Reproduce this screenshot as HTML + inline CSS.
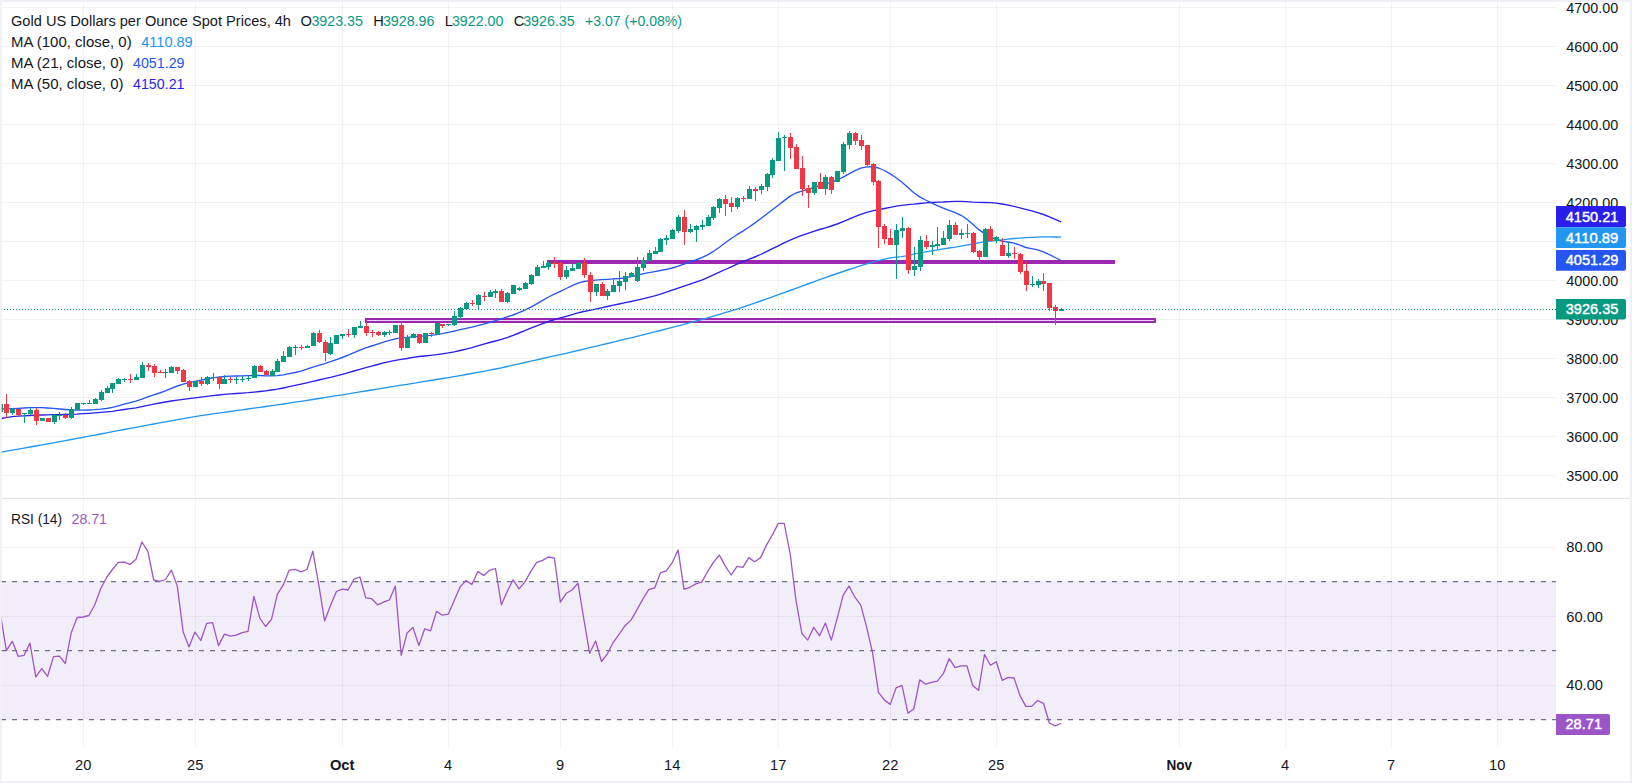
<!DOCTYPE html>
<html><head><meta charset="utf-8"><title>Gold chart</title>
<style>
html,body{margin:0;padding:0;background:#fff;}
body{width:1632px;height:783px;overflow:hidden;}
svg{display:block;font-family:"Liberation Sans",sans-serif;font-size:14.67px;}
</style></head><body>
<svg width="1632" height="783" viewBox="0 0 1632 783">
<rect width="1632" height="783" fill="#fff"/>
<g fill="rgba(42,46,57,0.06)"><rect x="2" y="475" width="1554" height="1"/><rect x="2" y="436" width="1554" height="1"/><rect x="2" y="397" width="1554" height="1"/><rect x="2" y="358" width="1554" height="1"/><rect x="2" y="319" width="1554" height="1"/><rect x="2" y="280" width="1554" height="1"/><rect x="2" y="241" width="1554" height="1"/><rect x="2" y="202" width="1554" height="1"/><rect x="2" y="163" width="1554" height="1"/><rect x="2" y="124" width="1554" height="1"/><rect x="2" y="85" width="1554" height="1"/><rect x="2" y="46" width="1554" height="1"/><rect x="2" y="7" width="1554" height="1"/><rect x="2" y="547" width="1554" height="1"/><rect x="2" y="616" width="1554" height="1"/><rect x="2" y="685" width="1554" height="1"/><rect x="83" y="2" width="1" height="745"/><rect x="195" y="2" width="1" height="745"/><rect x="342" y="2" width="1" height="745"/><rect x="448" y="2" width="1" height="745"/><rect x="560" y="2" width="1" height="745"/><rect x="672" y="2" width="1" height="745"/><rect x="778" y="2" width="1" height="745"/><rect x="890" y="2" width="1" height="745"/><rect x="996" y="2" width="1" height="745"/><rect x="1179" y="2" width="1" height="745"/><rect x="1285" y="2" width="1" height="745"/><rect x="1391" y="2" width="1" height="745"/><rect x="1497" y="2" width="1" height="745"/></g>
<rect x="2" y="581" width="1554" height="139" fill="#7E57C2" fill-opacity="0.1"/>
<line x1="1" y1="581.6" x2="1556" y2="581.6" stroke="#6E7180" stroke-width="1.2" stroke-dasharray="5 6"/>
<line x1="1" y1="650.6" x2="1556" y2="650.6" stroke="#6E7180" stroke-width="1.2" stroke-dasharray="5 6"/>
<line x1="1" y1="719.6" x2="1556" y2="719.6" stroke="#6E7180" stroke-width="1.2" stroke-dasharray="5 6"/>
<rect x="0" y="497.9" width="1632" height="1.2" fill="#E0E3EB"/>
<rect x="547" y="260" width="568" height="4" fill="#9C27B0"/>
<rect x="366" y="319" width="789" height="3" fill="#EBD4EF" stroke="#9C27B0" stroke-width="2"/>
<path d="M0.5 452.3 L6.4 451.2 L12.3 450.2 L18.2 449.1 L24.1 448.1 L29.9 447.0 L35.8 446.0 L41.7 444.9 L47.6 443.8 L53.5 442.8 L59.4 441.7 L65.3 440.6 L71.2 439.5 L77.1 438.4 L83.0 437.3 L88.9 436.2 L94.8 435.1 L100.7 434.0 L106.6 432.9 L112.4 431.7 L118.3 430.6 L124.2 429.5 L130.1 428.4 L136.0 427.3 L141.9 426.2 L147.8 425.1 L153.7 424.0 L159.6 422.9 L165.5 421.8 L171.4 420.8 L177.3 419.7 L183.2 418.6 L189.0 417.6 L194.9 416.6 L200.8 415.7 L206.7 414.8 L212.6 413.9 L218.5 413.1 L224.4 412.3 L230.3 411.5 L236.2 410.6 L242.1 409.8 L248.0 409.0 L253.9 408.2 L259.8 407.3 L265.6 406.5 L271.5 405.7 L277.4 404.8 L283.3 404.0 L289.2 403.1 L295.1 402.2 L301.0 401.3 L306.9 400.4 L312.8 399.5 L318.7 398.5 L324.6 397.6 L330.5 396.6 L336.4 395.7 L342.3 394.8 L348.1 393.8 L354.0 392.9 L359.9 391.9 L365.8 391.0 L371.7 390.0 L377.6 389.1 L383.5 388.1 L389.4 387.1 L395.3 386.2 L401.2 385.2 L407.1 384.3 L413.0 383.3 L418.9 382.4 L424.7 381.4 L430.6 380.5 L436.5 379.5 L442.4 378.5 L448.3 377.6 L454.2 376.6 L460.1 375.6 L466.0 374.5 L471.9 373.5 L477.8 372.4 L483.7 371.3 L489.6 370.2 L495.5 369.0 L501.4 367.8 L507.2 366.5 L513.1 365.2 L519.0 363.9 L524.9 362.5 L530.8 361.2 L536.7 359.9 L542.6 358.5 L548.5 357.2 L554.4 355.9 L560.3 354.6 L566.2 353.3 L572.1 351.9 L578.0 350.5 L583.8 349.1 L589.7 347.7 L595.6 346.3 L601.5 344.9 L607.4 343.5 L613.3 342.1 L619.2 340.6 L625.1 339.2 L631.0 337.8 L636.9 336.3 L642.8 334.9 L648.7 333.4 L654.6 331.9 L660.4 330.5 L666.3 328.9 L672.2 327.4 L678.1 325.9 L684.0 324.3 L689.9 322.7 L695.8 321.1 L701.7 319.5 L707.6 317.8 L713.5 316.1 L719.4 314.4 L725.3 312.7 L731.2 310.9 L737.0 309.1 L742.9 307.2 L748.8 305.2 L754.7 303.1 L760.6 301.0 L766.5 298.9 L772.4 296.8 L778.3 294.7 L784.2 292.6 L790.1 290.5 L796.0 288.3 L801.9 286.2 L807.8 284.0 L813.7 281.9 L819.5 279.7 L825.4 277.6 L831.3 275.5 L837.2 273.5 L843.1 271.5 L849.0 269.5 L854.9 267.6 L860.8 265.7 L866.7 263.9 L872.6 262.2 L878.5 260.6 L884.4 259.1 L890.3 257.8 L896.1 257.2 L902.0 256.7 L907.9 255.6 L913.8 254.2 L919.7 252.9 L925.6 251.8 L931.5 250.9 L937.4 249.9 L943.3 248.9 L949.2 248.0 L955.1 247.2 L961.0 246.2 L966.9 245.2 L972.8 244.0 L978.6 242.9 L984.5 241.9 L990.4 241.1 L996.3 240.4 L1002.2 239.8 L1008.1 239.1 L1014.0 238.5 L1019.9 238.1 L1025.8 237.7 L1031.7 237.4 L1037.6 237.1 L1043.5 236.9 L1049.4 236.8 L1055.2 237.0 L1061.1 237.2" fill="none" stroke="#2196F3" stroke-width="1.35" stroke-linejoin="round"/>
<path d="M0.5 418.5 L6.4 417.6 L12.3 416.7 L18.2 416.2 L24.1 415.8 L29.9 415.5 L35.8 415.2 L41.7 415.0 L47.6 414.9 L53.5 414.7 L59.4 414.6 L65.3 414.5 L71.2 414.3 L77.1 414.1 L83.0 413.7 L88.9 413.3 L94.8 412.8 L100.7 412.4 L106.6 411.9 L112.4 411.3 L118.3 410.4 L124.2 409.5 L130.1 408.7 L136.0 407.8 L141.9 406.6 L147.8 405.3 L153.7 404.1 L159.6 403.0 L165.5 402.0 L171.4 401.0 L177.3 400.1 L183.2 399.3 L189.0 398.6 L194.9 397.9 L200.8 397.1 L206.7 396.4 L212.6 395.6 L218.5 395.0 L224.4 394.4 L230.3 393.9 L236.2 393.5 L242.1 393.1 L248.0 392.7 L253.9 392.1 L259.8 391.5 L265.6 390.8 L271.5 390.0 L277.4 389.2 L283.3 388.0 L289.2 386.7 L295.1 385.4 L301.0 384.1 L306.9 382.8 L312.8 381.4 L318.7 380.0 L324.6 378.7 L330.5 377.4 L336.4 375.8 L342.3 374.3 L348.1 372.7 L354.0 371.0 L359.9 369.3 L365.8 367.7 L371.7 366.1 L377.6 364.5 L383.5 362.9 L389.4 361.6 L395.3 360.4 L401.2 359.4 L407.1 358.5 L413.0 357.4 L418.9 356.5 L424.7 356.0 L430.6 355.4 L436.5 354.7 L442.4 353.8 L448.3 352.9 L454.2 351.8 L460.1 350.5 L466.0 349.1 L471.9 347.6 L477.8 345.9 L483.7 344.2 L489.6 342.5 L495.5 341.0 L501.4 339.4 L507.2 337.6 L513.1 335.4 L519.0 333.0 L524.9 330.6 L530.8 328.2 L536.7 325.9 L542.6 323.6 L548.5 321.5 L554.4 319.6 L560.3 317.9 L566.2 316.3 L572.1 314.6 L578.0 312.9 L583.8 311.5 L589.7 310.3 L595.6 309.1 L601.5 307.8 L607.4 306.5 L613.3 305.2 L619.2 304.0 L625.1 302.7 L631.0 301.5 L636.9 300.2 L642.8 298.8 L648.7 297.4 L654.6 295.9 L660.4 294.2 L666.3 292.2 L672.2 290.1 L678.1 288.1 L684.0 286.1 L689.9 284.2 L695.8 282.2 L701.7 280.1 L707.6 277.6 L713.5 274.9 L719.4 272.2 L725.3 269.5 L731.2 266.8 L737.0 264.2 L742.9 261.7 L748.8 259.4 L754.7 257.0 L760.6 254.5 L766.5 251.7 L772.4 248.7 L778.3 245.8 L784.2 242.9 L790.1 240.1 L796.0 237.6 L801.9 235.3 L807.8 233.3 L813.7 231.4 L819.5 229.5 L825.4 227.8 L831.3 226.0 L837.2 224.0 L843.1 221.6 L849.0 219.1 L854.9 216.7 L860.8 214.4 L866.7 212.4 L872.6 210.9 L878.5 209.7 L884.4 208.5 L890.3 207.3 L896.1 206.1 L902.0 205.3 L907.9 204.7 L913.8 204.2 L919.7 203.5 L925.6 202.9 L931.5 202.5 L937.4 202.2 L943.3 202.0 L949.2 201.6 L955.1 201.4 L961.0 201.3 L966.9 201.6 L972.8 202.1 L978.6 202.4 L984.5 202.5 L990.4 202.7 L996.3 203.2 L1002.2 204.0 L1008.1 205.1 L1014.0 206.4 L1019.9 207.8 L1025.8 209.3 L1031.7 210.9 L1037.6 212.6 L1043.5 214.5 L1049.4 216.8 L1055.2 219.3 L1061.1 221.9" fill="none" stroke="#2A1EEB" stroke-width="1.35" stroke-linejoin="round"/>
<path d="M0.5 409.0 L6.4 408.9 L12.3 408.7 L18.2 408.4 L24.1 408.0 L29.9 407.7 L35.8 407.6 L41.7 407.7 L47.6 408.0 L53.5 408.4 L59.4 409.0 L65.3 409.5 L71.2 409.9 L77.1 410.1 L83.0 410.2 L88.9 410.0 L94.8 409.7 L100.7 409.2 L106.6 408.5 L112.4 407.3 L118.3 405.8 L124.2 404.2 L130.1 402.7 L136.0 401.1 L141.9 399.1 L147.8 396.9 L153.7 394.9 L159.6 393.0 L165.5 390.8 L171.4 388.3 L177.3 386.0 L183.2 384.2 L189.0 382.7 L194.9 381.4 L200.8 380.2 L206.7 379.0 L212.6 377.9 L218.5 377.1 L224.4 376.5 L230.3 376.2 L236.2 376.0 L242.1 375.9 L248.0 375.7 L253.9 375.5 L259.8 375.5 L265.6 375.8 L271.5 375.9 L277.4 375.6 L283.3 374.8 L289.2 373.6 L295.1 372.5 L301.0 371.1 L306.9 369.2 L312.8 367.1 L318.7 365.3 L324.6 363.6 L330.5 361.7 L336.4 359.6 L342.3 357.5 L348.1 355.2 L354.0 352.7 L359.9 350.1 L365.8 347.9 L371.7 346.0 L377.6 344.1 L383.5 342.2 L389.4 340.4 L395.3 338.8 L401.2 337.8 L407.1 337.3 L413.0 336.9 L418.9 336.4 L424.7 335.9 L430.6 335.4 L436.5 334.7 L442.4 333.7 L448.3 332.4 L454.2 331.1 L460.1 329.7 L466.0 328.4 L471.9 327.1 L477.8 325.7 L483.7 324.1 L489.6 322.4 L495.5 320.6 L501.4 318.8 L507.2 316.9 L513.1 315.0 L519.0 312.7 L524.9 310.1 L530.8 307.2 L536.7 303.9 L542.6 300.3 L548.5 297.0 L554.4 294.1 L560.3 291.3 L566.2 288.5 L572.1 285.7 L578.0 283.1 L583.8 281.5 L589.7 280.7 L595.6 280.1 L601.5 279.7 L607.4 279.3 L613.3 278.9 L619.2 278.5 L625.1 277.8 L631.0 276.6 L636.9 275.2 L642.8 273.9 L648.7 272.7 L654.6 271.6 L660.4 270.5 L666.3 269.3 L672.2 268.0 L678.1 266.2 L684.0 264.1 L689.9 262.0 L695.8 260.0 L701.7 257.7 L707.6 254.8 L713.5 251.3 L719.4 247.2 L725.3 242.8 L731.2 238.5 L737.0 234.7 L742.9 231.1 L748.8 227.3 L754.7 223.1 L760.6 218.7 L766.5 214.3 L772.4 209.8 L778.3 205.3 L784.2 200.6 L790.1 196.1 L796.0 193.0 L801.9 191.2 L807.8 189.4 L813.7 187.5 L819.5 185.8 L825.4 184.1 L831.3 182.2 L837.2 180.0 L843.1 177.2 L849.0 173.8 L854.9 170.6 L860.8 168.1 L866.7 166.8 L872.6 166.7 L878.5 168.0 L884.4 170.5 L890.3 173.9 L896.1 177.7 L902.0 182.2 L907.9 187.6 L913.8 192.8 L919.7 196.9 L925.6 200.0 L931.5 202.9 L937.4 205.6 L943.3 208.1 L949.2 210.4 L955.1 212.6 L961.0 215.3 L966.9 219.2 L972.8 224.3 L978.6 229.4 L984.5 233.6 L990.4 237.0 L996.3 239.6 L1002.2 241.1 L1008.1 242.0 L1014.0 243.1 L1019.9 245.2 L1025.8 247.5 L1031.7 248.7 L1037.6 249.8 L1043.5 251.8 L1049.4 254.6 L1055.2 257.5 L1061.1 260.5" fill="none" stroke="#2556F2" stroke-width="1.35" stroke-linejoin="round"/>
<g shape-rendering="crispEdges"><rect x="0" y="404" width="1" height="8" fill="#089981"/>
<rect x="-2" y="404" width="5" height="8" fill="#089981"/>
<rect x="6" y="394" width="1" height="24" fill="#F23645"/>
<rect x="4" y="404" width="5" height="9" fill="#F23645"/>
<rect x="12" y="408" width="1" height="7" fill="#089981"/>
<rect x="10" y="409" width="5" height="4" fill="#089981"/>
<rect x="18" y="409" width="1" height="7" fill="#F23645"/>
<rect x="16" y="409" width="5" height="6" fill="#F23645"/>
<rect x="24" y="413" width="1" height="10" fill="#089981"/>
<rect x="22" y="413" width="5" height="1" fill="#089981"/>
<rect x="30" y="408" width="1" height="7" fill="#089981"/>
<rect x="28" y="410" width="5" height="4" fill="#089981"/>
<rect x="36" y="408" width="1" height="17" fill="#F23645"/>
<rect x="34" y="410" width="5" height="11" fill="#F23645"/>
<rect x="42" y="418" width="1" height="3" fill="#089981"/>
<rect x="40" y="418" width="5" height="3" fill="#089981"/>
<rect x="48" y="418" width="1" height="4" fill="#F23645"/>
<rect x="46" y="418" width="5" height="4" fill="#F23645"/>
<rect x="54" y="414" width="1" height="10" fill="#089981"/>
<rect x="52" y="415" width="5" height="7" fill="#089981"/>
<rect x="59" y="412" width="1" height="8" fill="#089981"/>
<rect x="57" y="415" width="5" height="1" fill="#089981"/>
<rect x="65" y="413" width="1" height="6" fill="#F23645"/>
<rect x="63" y="415" width="5" height="3" fill="#F23645"/>
<rect x="71" y="407" width="1" height="12" fill="#089981"/>
<rect x="69" y="409" width="5" height="9" fill="#089981"/>
<rect x="77" y="403" width="1" height="7" fill="#089981"/>
<rect x="75" y="403" width="5" height="7" fill="#089981"/>
<rect x="83" y="403" width="1" height="2" fill="#089981"/>
<rect x="81" y="403" width="5" height="1" fill="#089981"/>
<rect x="89" y="400" width="1" height="4" fill="#089981"/>
<rect x="87" y="403" width="5" height="1" fill="#089981"/>
<rect x="95" y="398" width="1" height="6" fill="#089981"/>
<rect x="93" y="399" width="5" height="5" fill="#089981"/>
<rect x="101" y="390" width="1" height="11" fill="#089981"/>
<rect x="99" y="392" width="5" height="8" fill="#089981"/>
<rect x="107" y="386" width="1" height="7" fill="#089981"/>
<rect x="105" y="388" width="5" height="5" fill="#089981"/>
<rect x="112" y="383" width="1" height="10" fill="#089981"/>
<rect x="110" y="383" width="5" height="6" fill="#089981"/>
<rect x="118" y="378" width="1" height="6" fill="#089981"/>
<rect x="116" y="379" width="5" height="5" fill="#089981"/>
<rect x="124" y="378" width="1" height="4" fill="#089981"/>
<rect x="122" y="379" width="5" height="1" fill="#089981"/>
<rect x="130" y="374" width="1" height="9" fill="#F23645"/>
<rect x="128" y="379" width="5" height="1" fill="#F23645"/>
<rect x="136" y="374" width="1" height="6" fill="#089981"/>
<rect x="134" y="377" width="5" height="3" fill="#089981"/>
<rect x="142" y="362" width="1" height="16" fill="#089981"/>
<rect x="140" y="365" width="5" height="13" fill="#089981"/>
<rect x="148" y="363" width="1" height="8" fill="#F23645"/>
<rect x="146" y="365" width="5" height="2" fill="#F23645"/>
<rect x="154" y="364" width="1" height="13" fill="#F23645"/>
<rect x="152" y="366" width="5" height="7" fill="#F23645"/>
<rect x="160" y="370" width="1" height="3" fill="#F23645"/>
<rect x="158" y="372" width="5" height="1" fill="#F23645"/>
<rect x="165" y="369" width="1" height="9" fill="#089981"/>
<rect x="163" y="372" width="5" height="1" fill="#089981"/>
<rect x="171" y="366" width="1" height="7" fill="#089981"/>
<rect x="169" y="367" width="5" height="6" fill="#089981"/>
<rect x="177" y="367" width="1" height="7" fill="#F23645"/>
<rect x="175" y="367" width="5" height="4" fill="#F23645"/>
<rect x="183" y="369" width="1" height="13" fill="#F23645"/>
<rect x="181" y="370" width="5" height="12" fill="#F23645"/>
<rect x="189" y="380" width="1" height="11" fill="#F23645"/>
<rect x="187" y="381" width="5" height="6" fill="#F23645"/>
<rect x="195" y="381" width="1" height="6" fill="#089981"/>
<rect x="193" y="381" width="5" height="6" fill="#089981"/>
<rect x="201" y="377" width="1" height="9" fill="#F23645"/>
<rect x="199" y="381" width="5" height="3" fill="#F23645"/>
<rect x="207" y="376" width="1" height="9" fill="#089981"/>
<rect x="205" y="377" width="5" height="7" fill="#089981"/>
<rect x="213" y="373" width="1" height="8" fill="#089981"/>
<rect x="211" y="377" width="5" height="1" fill="#089981"/>
<rect x="219" y="376" width="1" height="13" fill="#F23645"/>
<rect x="217" y="377" width="5" height="7" fill="#F23645"/>
<rect x="224" y="375" width="1" height="9" fill="#089981"/>
<rect x="222" y="379" width="5" height="5" fill="#089981"/>
<rect x="230" y="377" width="1" height="6" fill="#F23645"/>
<rect x="228" y="379" width="5" height="1" fill="#F23645"/>
<rect x="236" y="377" width="1" height="7" fill="#089981"/>
<rect x="234" y="379" width="5" height="1" fill="#089981"/>
<rect x="242" y="376" width="1" height="6" fill="#089981"/>
<rect x="240" y="379" width="5" height="1" fill="#089981"/>
<rect x="248" y="376" width="1" height="5" fill="#089981"/>
<rect x="246" y="378" width="5" height="1" fill="#089981"/>
<rect x="254" y="365" width="1" height="13" fill="#089981"/>
<rect x="252" y="366" width="5" height="12" fill="#089981"/>
<rect x="260" y="365" width="1" height="7" fill="#F23645"/>
<rect x="258" y="366" width="5" height="6" fill="#F23645"/>
<rect x="266" y="370" width="1" height="5" fill="#F23645"/>
<rect x="264" y="371" width="5" height="4" fill="#F23645"/>
<rect x="272" y="369" width="1" height="7" fill="#089981"/>
<rect x="270" y="371" width="5" height="5" fill="#089981"/>
<rect x="277" y="359" width="1" height="13" fill="#089981"/>
<rect x="275" y="361" width="5" height="11" fill="#089981"/>
<rect x="283" y="351" width="1" height="11" fill="#089981"/>
<rect x="281" y="356" width="5" height="6" fill="#089981"/>
<rect x="289" y="346" width="1" height="11" fill="#089981"/>
<rect x="287" y="347" width="5" height="10" fill="#089981"/>
<rect x="295" y="345" width="1" height="10" fill="#089981"/>
<rect x="293" y="347" width="5" height="1" fill="#089981"/>
<rect x="301" y="345" width="1" height="5" fill="#F23645"/>
<rect x="299" y="347" width="5" height="1" fill="#F23645"/>
<rect x="307" y="345" width="1" height="3" fill="#089981"/>
<rect x="305" y="346" width="5" height="2" fill="#089981"/>
<rect x="313" y="332" width="1" height="14" fill="#089981"/>
<rect x="311" y="333" width="5" height="13" fill="#089981"/>
<rect x="319" y="330" width="1" height="13" fill="#F23645"/>
<rect x="317" y="333" width="5" height="9" fill="#F23645"/>
<rect x="325" y="340" width="1" height="21" fill="#F23645"/>
<rect x="323" y="342" width="5" height="11" fill="#F23645"/>
<rect x="330" y="337" width="1" height="18" fill="#089981"/>
<rect x="328" y="343" width="5" height="11" fill="#089981"/>
<rect x="336" y="335" width="1" height="9" fill="#089981"/>
<rect x="334" y="335" width="5" height="9" fill="#089981"/>
<rect x="342" y="334" width="1" height="5" fill="#089981"/>
<rect x="340" y="334" width="5" height="2" fill="#089981"/>
<rect x="348" y="329" width="1" height="8" fill="#F23645"/>
<rect x="346" y="334" width="5" height="1" fill="#F23645"/>
<rect x="354" y="327" width="1" height="11" fill="#089981"/>
<rect x="352" y="327" width="5" height="8" fill="#089981"/>
<rect x="360" y="321" width="1" height="7" fill="#089981"/>
<rect x="358" y="326" width="5" height="2" fill="#089981"/>
<rect x="366" y="322" width="1" height="14" fill="#F23645"/>
<rect x="364" y="326" width="5" height="7" fill="#F23645"/>
<rect x="372" y="330" width="1" height="7" fill="#F23645"/>
<rect x="370" y="332" width="5" height="1" fill="#F23645"/>
<rect x="378" y="331" width="1" height="5" fill="#F23645"/>
<rect x="376" y="332" width="5" height="3" fill="#F23645"/>
<rect x="384" y="331" width="1" height="6" fill="#089981"/>
<rect x="382" y="332" width="5" height="3" fill="#089981"/>
<rect x="389" y="330" width="1" height="5" fill="#089981"/>
<rect x="387" y="332" width="5" height="1" fill="#089981"/>
<rect x="395" y="325" width="1" height="8" fill="#089981"/>
<rect x="393" y="325" width="5" height="8" fill="#089981"/>
<rect x="401" y="321" width="1" height="30" fill="#F23645"/>
<rect x="399" y="325" width="5" height="23" fill="#F23645"/>
<rect x="407" y="335" width="1" height="13" fill="#089981"/>
<rect x="405" y="337" width="5" height="11" fill="#089981"/>
<rect x="413" y="333" width="1" height="5" fill="#089981"/>
<rect x="411" y="334" width="5" height="4" fill="#089981"/>
<rect x="419" y="334" width="1" height="10" fill="#F23645"/>
<rect x="417" y="334" width="5" height="9" fill="#F23645"/>
<rect x="425" y="333" width="1" height="10" fill="#089981"/>
<rect x="423" y="333" width="5" height="10" fill="#089981"/>
<rect x="431" y="332" width="1" height="5" fill="#F23645"/>
<rect x="429" y="333" width="5" height="1" fill="#F23645"/>
<rect x="437" y="323" width="1" height="12" fill="#089981"/>
<rect x="435" y="323" width="5" height="12" fill="#089981"/>
<rect x="442" y="324" width="1" height="4" fill="#F23645"/>
<rect x="440" y="324" width="5" height="2" fill="#F23645"/>
<rect x="448" y="324" width="1" height="2" fill="#089981"/>
<rect x="446" y="324" width="5" height="1" fill="#089981"/>
<rect x="454" y="311" width="1" height="15" fill="#089981"/>
<rect x="452" y="316" width="5" height="9" fill="#089981"/>
<rect x="460" y="307" width="1" height="12" fill="#089981"/>
<rect x="458" y="308" width="5" height="9" fill="#089981"/>
<rect x="466" y="302" width="1" height="8" fill="#089981"/>
<rect x="464" y="303" width="5" height="6" fill="#089981"/>
<rect x="472" y="300" width="1" height="6" fill="#F23645"/>
<rect x="470" y="303" width="5" height="1" fill="#F23645"/>
<rect x="478" y="294" width="1" height="16" fill="#089981"/>
<rect x="476" y="295" width="5" height="10" fill="#089981"/>
<rect x="484" y="292" width="1" height="9" fill="#F23645"/>
<rect x="482" y="296" width="5" height="1" fill="#F23645"/>
<rect x="490" y="290" width="1" height="7" fill="#089981"/>
<rect x="488" y="292" width="5" height="5" fill="#089981"/>
<rect x="495" y="289" width="1" height="9" fill="#089981"/>
<rect x="493" y="291" width="5" height="2" fill="#089981"/>
<rect x="501" y="289" width="1" height="13" fill="#F23645"/>
<rect x="499" y="291" width="5" height="11" fill="#F23645"/>
<rect x="507" y="292" width="1" height="11" fill="#089981"/>
<rect x="505" y="293" width="5" height="9" fill="#089981"/>
<rect x="513" y="285" width="1" height="9" fill="#089981"/>
<rect x="511" y="285" width="5" height="9" fill="#089981"/>
<rect x="519" y="287" width="1" height="4" fill="#089981"/>
<rect x="517" y="288" width="5" height="2" fill="#089981"/>
<rect x="525" y="282" width="1" height="7" fill="#089981"/>
<rect x="523" y="283" width="5" height="6" fill="#089981"/>
<rect x="531" y="274" width="1" height="11" fill="#089981"/>
<rect x="529" y="275" width="5" height="9" fill="#089981"/>
<rect x="537" y="265" width="1" height="11" fill="#089981"/>
<rect x="535" y="267" width="5" height="9" fill="#089981"/>
<rect x="543" y="261" width="1" height="7" fill="#089981"/>
<rect x="541" y="266" width="5" height="2" fill="#089981"/>
<rect x="548" y="261" width="1" height="9" fill="#089981"/>
<rect x="546" y="263" width="5" height="4" fill="#089981"/>
<rect x="554" y="257" width="1" height="11" fill="#F23645"/>
<rect x="552" y="263" width="5" height="1" fill="#F23645"/>
<rect x="560" y="262" width="1" height="18" fill="#F23645"/>
<rect x="558" y="263" width="5" height="14" fill="#F23645"/>
<rect x="566" y="266" width="1" height="13" fill="#089981"/>
<rect x="564" y="270" width="5" height="7" fill="#089981"/>
<rect x="572" y="264" width="1" height="7" fill="#089981"/>
<rect x="570" y="268" width="5" height="3" fill="#089981"/>
<rect x="578" y="262" width="1" height="7" fill="#089981"/>
<rect x="576" y="263" width="5" height="6" fill="#089981"/>
<rect x="584" y="258" width="1" height="20" fill="#F23645"/>
<rect x="582" y="263" width="5" height="12" fill="#F23645"/>
<rect x="590" y="272" width="1" height="30" fill="#F23645"/>
<rect x="588" y="275" width="5" height="17" fill="#F23645"/>
<rect x="596" y="284" width="1" height="12" fill="#089981"/>
<rect x="594" y="284" width="5" height="8" fill="#089981"/>
<rect x="602" y="282" width="1" height="14" fill="#F23645"/>
<rect x="600" y="284" width="5" height="12" fill="#F23645"/>
<rect x="607" y="289" width="1" height="11" fill="#089981"/>
<rect x="605" y="291" width="5" height="5" fill="#089981"/>
<rect x="613" y="278" width="1" height="14" fill="#089981"/>
<rect x="611" y="285" width="5" height="7" fill="#089981"/>
<rect x="619" y="271" width="1" height="21" fill="#089981"/>
<rect x="617" y="281" width="5" height="5" fill="#089981"/>
<rect x="625" y="272" width="1" height="18" fill="#089981"/>
<rect x="623" y="276" width="5" height="6" fill="#089981"/>
<rect x="631" y="272" width="1" height="5" fill="#089981"/>
<rect x="629" y="273" width="5" height="4" fill="#089981"/>
<rect x="637" y="257" width="1" height="25" fill="#089981"/>
<rect x="635" y="267" width="5" height="14" fill="#089981"/>
<rect x="643" y="257" width="1" height="14" fill="#089981"/>
<rect x="641" y="260" width="5" height="8" fill="#089981"/>
<rect x="649" y="250" width="1" height="11" fill="#089981"/>
<rect x="647" y="253" width="5" height="8" fill="#089981"/>
<rect x="655" y="247" width="1" height="7" fill="#089981"/>
<rect x="653" y="251" width="5" height="3" fill="#089981"/>
<rect x="660" y="238" width="1" height="14" fill="#089981"/>
<rect x="658" y="239" width="5" height="13" fill="#089981"/>
<rect x="666" y="235" width="1" height="10" fill="#089981"/>
<rect x="664" y="238" width="5" height="2" fill="#089981"/>
<rect x="672" y="229" width="1" height="10" fill="#089981"/>
<rect x="670" y="230" width="5" height="9" fill="#089981"/>
<rect x="678" y="215" width="1" height="18" fill="#089981"/>
<rect x="676" y="217" width="5" height="14" fill="#089981"/>
<rect x="684" y="210" width="1" height="35" fill="#F23645"/>
<rect x="682" y="217" width="5" height="15" fill="#F23645"/>
<rect x="690" y="224" width="1" height="9" fill="#089981"/>
<rect x="688" y="229" width="5" height="3" fill="#089981"/>
<rect x="696" y="225" width="1" height="17" fill="#089981"/>
<rect x="694" y="226" width="5" height="4" fill="#089981"/>
<rect x="702" y="220" width="1" height="10" fill="#089981"/>
<rect x="700" y="225" width="5" height="2" fill="#089981"/>
<rect x="708" y="215" width="1" height="11" fill="#089981"/>
<rect x="706" y="217" width="5" height="9" fill="#089981"/>
<rect x="713" y="206" width="1" height="14" fill="#089981"/>
<rect x="711" y="207" width="5" height="11" fill="#089981"/>
<rect x="719" y="198" width="1" height="15" fill="#089981"/>
<rect x="717" y="199" width="5" height="9" fill="#089981"/>
<rect x="725" y="195" width="1" height="21" fill="#F23645"/>
<rect x="723" y="199" width="5" height="5" fill="#F23645"/>
<rect x="731" y="197" width="1" height="15" fill="#F23645"/>
<rect x="729" y="203" width="5" height="4" fill="#F23645"/>
<rect x="737" y="197" width="1" height="12" fill="#089981"/>
<rect x="735" y="198" width="5" height="9" fill="#089981"/>
<rect x="743" y="196" width="1" height="6" fill="#F23645"/>
<rect x="741" y="198" width="5" height="1" fill="#F23645"/>
<rect x="749" y="186" width="1" height="13" fill="#089981"/>
<rect x="747" y="189" width="5" height="10" fill="#089981"/>
<rect x="755" y="187" width="1" height="14" fill="#F23645"/>
<rect x="753" y="189" width="5" height="2" fill="#F23645"/>
<rect x="761" y="184" width="1" height="10" fill="#089981"/>
<rect x="759" y="186" width="5" height="4" fill="#089981"/>
<rect x="767" y="173" width="1" height="18" fill="#089981"/>
<rect x="765" y="174" width="5" height="13" fill="#089981"/>
<rect x="772" y="158" width="1" height="20" fill="#089981"/>
<rect x="770" y="160" width="5" height="15" fill="#089981"/>
<rect x="778" y="132" width="1" height="29" fill="#089981"/>
<rect x="776" y="138" width="5" height="23" fill="#089981"/>
<rect x="784" y="135" width="1" height="36" fill="#089981"/>
<rect x="782" y="137" width="5" height="1" fill="#089981"/>
<rect x="790" y="133" width="1" height="26" fill="#F23645"/>
<rect x="788" y="137" width="5" height="11" fill="#F23645"/>
<rect x="796" y="144" width="1" height="25" fill="#F23645"/>
<rect x="794" y="147" width="5" height="22" fill="#F23645"/>
<rect x="802" y="156" width="1" height="40" fill="#F23645"/>
<rect x="800" y="168" width="5" height="21" fill="#F23645"/>
<rect x="808" y="185" width="1" height="23" fill="#F23645"/>
<rect x="806" y="188" width="5" height="5" fill="#F23645"/>
<rect x="814" y="182" width="1" height="13" fill="#089981"/>
<rect x="812" y="182" width="5" height="11" fill="#089981"/>
<rect x="820" y="173" width="1" height="16" fill="#F23645"/>
<rect x="818" y="182" width="5" height="7" fill="#F23645"/>
<rect x="825" y="175" width="1" height="20" fill="#089981"/>
<rect x="823" y="177" width="5" height="12" fill="#089981"/>
<rect x="831" y="176" width="1" height="18" fill="#F23645"/>
<rect x="829" y="177" width="5" height="13" fill="#F23645"/>
<rect x="837" y="171" width="1" height="11" fill="#089981"/>
<rect x="835" y="171" width="5" height="11" fill="#089981"/>
<rect x="843" y="142" width="1" height="32" fill="#089981"/>
<rect x="841" y="144" width="5" height="28" fill="#089981"/>
<rect x="849" y="131" width="1" height="18" fill="#089981"/>
<rect x="847" y="133" width="5" height="12" fill="#089981"/>
<rect x="855" y="132" width="1" height="13" fill="#F23645"/>
<rect x="853" y="133" width="5" height="8" fill="#F23645"/>
<rect x="861" y="135" width="1" height="15" fill="#F23645"/>
<rect x="859" y="140" width="5" height="6" fill="#F23645"/>
<rect x="867" y="145" width="1" height="21" fill="#F23645"/>
<rect x="865" y="145" width="5" height="20" fill="#F23645"/>
<rect x="873" y="163" width="1" height="22" fill="#F23645"/>
<rect x="871" y="164" width="5" height="18" fill="#F23645"/>
<rect x="878" y="180" width="1" height="68" fill="#F23645"/>
<rect x="876" y="181" width="5" height="46" fill="#F23645"/>
<rect x="884" y="224" width="1" height="20" fill="#F23645"/>
<rect x="882" y="226" width="5" height="13" fill="#F23645"/>
<rect x="890" y="229" width="1" height="16" fill="#F23645"/>
<rect x="888" y="238" width="5" height="7" fill="#F23645"/>
<rect x="896" y="224" width="1" height="55" fill="#089981"/>
<rect x="894" y="230" width="5" height="15" fill="#089981"/>
<rect x="902" y="217" width="1" height="21" fill="#089981"/>
<rect x="900" y="228" width="5" height="3" fill="#089981"/>
<rect x="908" y="227" width="1" height="47" fill="#F23645"/>
<rect x="906" y="228" width="5" height="42" fill="#F23645"/>
<rect x="914" y="247" width="1" height="29" fill="#089981"/>
<rect x="912" y="266" width="5" height="4" fill="#089981"/>
<rect x="920" y="236" width="1" height="35" fill="#089981"/>
<rect x="918" y="240" width="5" height="27" fill="#089981"/>
<rect x="926" y="235" width="1" height="14" fill="#F23645"/>
<rect x="924" y="241" width="5" height="6" fill="#F23645"/>
<rect x="932" y="241" width="1" height="14" fill="#089981"/>
<rect x="930" y="245" width="5" height="2" fill="#089981"/>
<rect x="937" y="227" width="1" height="22" fill="#089981"/>
<rect x="935" y="244" width="5" height="2" fill="#089981"/>
<rect x="943" y="231" width="1" height="14" fill="#089981"/>
<rect x="941" y="238" width="5" height="7" fill="#089981"/>
<rect x="949" y="220" width="1" height="21" fill="#089981"/>
<rect x="947" y="225" width="5" height="14" fill="#089981"/>
<rect x="955" y="222" width="1" height="13" fill="#F23645"/>
<rect x="953" y="225" width="5" height="10" fill="#F23645"/>
<rect x="961" y="229" width="1" height="10" fill="#089981"/>
<rect x="959" y="233" width="5" height="2" fill="#089981"/>
<rect x="967" y="224" width="1" height="14" fill="#089981"/>
<rect x="965" y="233" width="5" height="1" fill="#089981"/>
<rect x="973" y="232" width="1" height="21" fill="#F23645"/>
<rect x="971" y="233" width="5" height="19" fill="#F23645"/>
<rect x="979" y="250" width="1" height="13" fill="#F23645"/>
<rect x="977" y="251" width="5" height="6" fill="#F23645"/>
<rect x="985" y="228" width="1" height="29" fill="#089981"/>
<rect x="983" y="229" width="5" height="28" fill="#089981"/>
<rect x="990" y="226" width="1" height="15" fill="#F23645"/>
<rect x="988" y="229" width="5" height="12" fill="#F23645"/>
<rect x="996" y="236" width="1" height="7" fill="#089981"/>
<rect x="994" y="237" width="5" height="4" fill="#089981"/>
<rect x="1002" y="238" width="1" height="18" fill="#F23645"/>
<rect x="1000" y="245" width="5" height="11" fill="#F23645"/>
<rect x="1008" y="242" width="1" height="16" fill="#089981"/>
<rect x="1006" y="253" width="5" height="3" fill="#089981"/>
<rect x="1014" y="247" width="1" height="12" fill="#F23645"/>
<rect x="1012" y="253" width="5" height="1" fill="#F23645"/>
<rect x="1020" y="253" width="1" height="21" fill="#F23645"/>
<rect x="1018" y="254" width="5" height="18" fill="#F23645"/>
<rect x="1026" y="261" width="1" height="30" fill="#F23645"/>
<rect x="1024" y="271" width="5" height="14" fill="#F23645"/>
<rect x="1032" y="276" width="1" height="11" fill="#089981"/>
<rect x="1030" y="284" width="5" height="1" fill="#089981"/>
<rect x="1038" y="279" width="1" height="9" fill="#089981"/>
<rect x="1036" y="281" width="5" height="4" fill="#089981"/>
<rect x="1043" y="273" width="1" height="18" fill="#F23645"/>
<rect x="1041" y="281" width="5" height="3" fill="#F23645"/>
<rect x="1049" y="283" width="1" height="28" fill="#F23645"/>
<rect x="1047" y="283" width="5" height="25" fill="#F23645"/>
<rect x="1055" y="305" width="1" height="20" fill="#F23645"/>
<rect x="1053" y="307" width="5" height="4" fill="#F23645"/>
<rect x="1061" y="308" width="1" height="3" fill="#089981"/>
<rect x="1059" y="309" width="5" height="2" fill="#089981"/></g>
<line x1="1" y1="309.5" x2="1556" y2="309.5" stroke="#089981" stroke-width="1" stroke-dasharray="1 2"/>
<path d="M0.5 615.0 L6.4 650.7 L12.3 641.3 L18.2 656.3 L24.1 655.3 L29.9 643.1 L35.8 676.8 L41.7 668.6 L47.6 676.3 L53.5 656.6 L59.4 656.1 L65.3 663.5 L71.2 632.9 L77.1 617.5 L83.0 617.0 L88.9 615.5 L94.8 604.8 L100.7 588.7 L106.6 577.5 L112.4 569.5 L118.3 562.4 L124.2 562.1 L130.1 564.4 L136.0 559.3 L141.9 542.0 L147.8 551.2 L153.7 580.0 L159.6 581.3 L165.5 579.5 L171.4 570.1 L177.3 586.1 L183.2 632.1 L189.0 646.9 L194.9 632.1 L200.8 640.5 L206.7 623.4 L212.6 622.6 L218.5 645.6 L224.4 634.1 L230.3 636.2 L236.2 635.2 L242.1 632.6 L248.0 631.3 L253.9 596.4 L259.8 618.1 L265.6 626.5 L271.5 619.3 L277.4 594.1 L283.3 584.9 L289.2 570.1 L295.1 569.3 L301.0 571.8 L306.9 569.5 L312.8 551.2 L318.7 584.4 L324.6 620.9 L330.5 605.5 L336.4 591.5 L342.3 589.2 L348.1 590.0 L354.0 579.2 L359.9 577.0 L365.8 597.9 L371.7 598.7 L377.6 604.8 L383.5 602.2 L389.4 599.9 L395.3 586.1 L401.2 655.3 L407.1 632.9 L413.0 627.5 L418.9 645.6 L424.7 628.8 L430.6 630.8 L436.5 611.4 L442.4 615.2 L448.3 614.2 L454.2 600.4 L460.1 586.9 L466.0 580.5 L471.9 584.4 L477.8 571.6 L483.7 575.4 L489.6 570.3 L495.5 568.5 L501.4 604.8 L507.2 591.5 L513.1 579.8 L519.0 588.9 L524.9 581.8 L530.8 571.6 L536.7 562.4 L542.6 560.4 L548.5 557.0 L554.4 558.1 L560.3 602.2 L566.2 593.3 L572.1 590.0 L578.0 583.1 L583.8 618.8 L589.7 653.3 L595.6 641.0 L601.5 661.5 L607.4 653.8 L613.3 642.3 L619.2 634.1 L625.1 625.7 L631.0 620.1 L636.9 609.9 L642.8 599.2 L648.7 589.7 L654.6 587.9 L660.4 572.9 L666.3 570.8 L672.2 562.7 L678.1 549.9 L684.0 589.2 L689.9 587.3 L695.8 583.9 L701.7 582.1 L707.6 571.7 L713.5 562.2 L719.4 555.1 L725.3 566.1 L731.2 575.0 L737.0 566.3 L742.9 567.3 L748.8 557.6 L754.7 561.7 L760.6 557.6 L766.5 545.1 L772.4 534.9 L778.3 523.4 L784.2 523.4 L790.1 553.3 L796.0 600.5 L801.9 633.5 L807.8 640.1 L813.7 627.3 L819.5 635.8 L825.4 623.0 L831.3 640.1 L837.2 618.4 L843.1 595.4 L849.0 586.0 L854.9 597.2 L860.8 605.1 L866.7 627.3 L872.6 652.9 L878.5 692.4 L884.4 700.1 L890.3 704.4 L896.1 687.8 L902.0 685.4 L907.9 713.1 L913.8 709.0 L919.7 679.9 L925.6 684.2 L931.5 682.4 L937.4 681.1 L943.3 673.7 L949.2 658.6 L955.1 667.6 L961.0 665.8 L966.9 665.8 L972.8 685.7 L978.6 690.3 L984.5 654.5 L990.4 665.3 L996.3 661.7 L1002.2 680.3 L1008.1 677.3 L1014.0 678.0 L1019.9 695.4 L1025.8 706.4 L1031.7 706.4 L1037.6 700.5 L1043.5 703.3 L1049.4 723.0 L1055.2 725.8 L1061.1 723.5" fill="none" stroke="#9E55C6" stroke-width="1.3" stroke-linejoin="round"/>
<text x="1566.2" y="480.5" fill="#131722" textLength="52" lengthAdjust="spacingAndGlyphs">3500.00</text>
<text x="1566.2" y="441.5" fill="#131722" textLength="52" lengthAdjust="spacingAndGlyphs">3600.00</text>
<text x="1566.2" y="402.5" fill="#131722" textLength="52" lengthAdjust="spacingAndGlyphs">3700.00</text>
<text x="1566.2" y="363.5" fill="#131722" textLength="52" lengthAdjust="spacingAndGlyphs">3800.00</text>
<text x="1566.2" y="324.5" fill="#131722" textLength="52" lengthAdjust="spacingAndGlyphs">3900.00</text>
<text x="1566.2" y="285.5" fill="#131722" textLength="52" lengthAdjust="spacingAndGlyphs">4000.00</text>
<text x="1566.2" y="246.5" fill="#131722" textLength="52" lengthAdjust="spacingAndGlyphs">4100.00</text>
<text x="1566.2" y="207.6" fill="#131722" textLength="52" lengthAdjust="spacingAndGlyphs">4200.00</text>
<text x="1566.2" y="168.6" fill="#131722" textLength="52" lengthAdjust="spacingAndGlyphs">4300.00</text>
<text x="1566.2" y="129.6" fill="#131722" textLength="52" lengthAdjust="spacingAndGlyphs">4400.00</text>
<text x="1566.2" y="90.6" fill="#131722" textLength="52" lengthAdjust="spacingAndGlyphs">4500.00</text>
<text x="1566.2" y="51.6" fill="#131722" textLength="52" lengthAdjust="spacingAndGlyphs">4600.00</text>
<text x="1566.2" y="12.6" fill="#131722" textLength="52" lengthAdjust="spacingAndGlyphs">4700.00</text>
<text x="1566.3" y="552.4" fill="#131722" textLength="36.7" lengthAdjust="spacingAndGlyphs">80.00</text>
<text x="1566.3" y="621.6" fill="#131722" textLength="36.7" lengthAdjust="spacingAndGlyphs">60.00</text>
<text x="1566.3" y="690.3" fill="#131722" textLength="36.7" lengthAdjust="spacingAndGlyphs">40.00</text>
<text x="83.2" y="770" fill="#131722" text-anchor="middle">20</text>
<text x="195.2" y="770" fill="#131722" text-anchor="middle">25</text>
<text x="342.2" y="770" fill="#131722" text-anchor="middle" textLength="24.6" lengthAdjust="spacingAndGlyphs" font-weight="bold">Oct</text>
<text x="448.2" y="770" fill="#131722" text-anchor="middle">4</text>
<text x="560.2" y="770" fill="#131722" text-anchor="middle">9</text>
<text x="672.2" y="770" fill="#131722" text-anchor="middle">14</text>
<text x="778.2" y="770" fill="#131722" text-anchor="middle">17</text>
<text x="890.2" y="770" fill="#131722" text-anchor="middle">22</text>
<text x="996.2" y="770" fill="#131722" text-anchor="middle">25</text>
<text x="1179.2" y="770" fill="#131722" text-anchor="middle" textLength="25.6" lengthAdjust="spacingAndGlyphs" font-weight="bold">Nov</text>
<text x="1285.2" y="770" fill="#131722" text-anchor="middle">4</text>
<text x="1391.2" y="770" fill="#131722" text-anchor="middle">7</text>
<text x="1497.2" y="770" fill="#131722" text-anchor="middle">10</text>
<path d="M1556 206H1624a2 2 0 0 1 2 2V225.2a2 2 0 0 1 -2 2H1556Z" fill="#2A1EEB"/>
<text x="1565.8" y="221.6" fill="#fff" textLength="52.5" lengthAdjust="spacingAndGlyphs" font-size="15.2" stroke="#fff" stroke-width="0.45">4150.21</text>
<path d="M1556 227.2H1624a2 2 0 0 1 2 2V245.9a2 2 0 0 1 -2 2H1556Z" fill="#2196F3"/>
<text x="1565.8" y="242.6" fill="#fff" textLength="52.5" lengthAdjust="spacingAndGlyphs" font-size="15.2" stroke="#fff" stroke-width="0.45">4110.89</text>
<path d="M1556 250H1624a2 2 0 0 1 2 2V268.7a2 2 0 0 1 -2 2H1556Z" fill="#2556F2"/>
<text x="1565.8" y="265.4" fill="#fff" textLength="52.5" lengthAdjust="spacingAndGlyphs" font-size="15.2" stroke="#fff" stroke-width="0.45">4051.29</text>
<path d="M1556 298.9H1624a2 2 0 0 1 2 2V317.6a2 2 0 0 1 -2 2H1556Z" fill="#089981"/>
<text x="1565.8" y="314.2" fill="#fff" textLength="52.5" lengthAdjust="spacingAndGlyphs" font-size="15.2" stroke="#fff" stroke-width="0.45">3926.35</text>
<path d="M1556 713.9H1608a2 2 0 0 1 2 2V733a2 2 0 0 1 -2 2H1556Z" fill="#9C55C6"/>
<text x="1565.5" y="729.0" fill="#fff" textLength="36.5" lengthAdjust="spacingAndGlyphs" font-size="15.2" stroke="#fff" stroke-width="0.45">28.71</text>
<text x="11" y="26.0" fill="#131722" textLength="280" lengthAdjust="spacingAndGlyphs">Gold US Dollars per Ounce Spot Prices, 4h</text>
<text x="300.6" y="26.0" fill="#131722">O</text>
<text x="311.4" y="26.0" fill="#089981" textLength="51.5" lengthAdjust="spacingAndGlyphs">3923.35</text>
<text x="373.2" y="26.0" fill="#131722">H</text>
<text x="382.9" y="26.0" fill="#089981" textLength="51.5" lengthAdjust="spacingAndGlyphs">3928.96</text>
<text x="444.7" y="26.0" fill="#131722">L</text>
<text x="451.9" y="26.0" fill="#089981" textLength="51.5" lengthAdjust="spacingAndGlyphs">3922.00</text>
<text x="513.7" y="26.0" fill="#131722">C</text>
<text x="523.2" y="26.0" fill="#089981" textLength="51.5" lengthAdjust="spacingAndGlyphs">3926.35</text>
<text x="585" y="26.0" fill="#089981" textLength="97" lengthAdjust="spacingAndGlyphs">+3.07 (+0.08%)</text>
<text x="11" y="46.8" fill="#131722" textLength="120.7" lengthAdjust="spacingAndGlyphs">MA (100, close, 0)</text>
<text x="141.2" y="46.8" fill="#2196F3" textLength="51.5" lengthAdjust="spacingAndGlyphs">4110.89</text>
<text x="11" y="67.7" fill="#131722" textLength="112.5" lengthAdjust="spacingAndGlyphs">MA (21, close, 0)</text>
<text x="133" y="67.7" fill="#2556F2" textLength="51.5" lengthAdjust="spacingAndGlyphs">4051.29</text>
<text x="11" y="88.7" fill="#131722" textLength="112.5" lengthAdjust="spacingAndGlyphs">MA (50, close, 0)</text>
<text x="133" y="88.7" fill="#2A1EEB" textLength="51.5" lengthAdjust="spacingAndGlyphs">4150.21</text>
<text x="11" y="523.7" fill="#131722" textLength="51" lengthAdjust="spacingAndGlyphs">RSI (14)</text>
<text x="71.5" y="523.7" fill="#9E55C6" textLength="35.5" lengthAdjust="spacingAndGlyphs">28.71</text>
<path d="M0 0H1632V783H0Z M1.7 1.9V781H1629.9V1.9Z" fill="#EEF0F5" fill-rule="evenodd"/>
</svg>
</body></html>
